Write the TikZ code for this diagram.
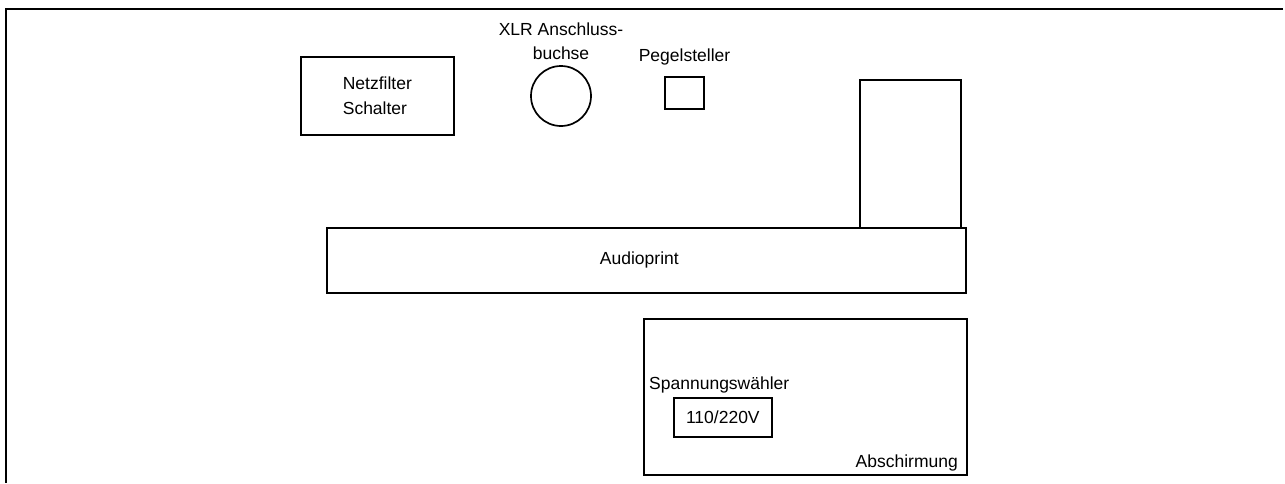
\documentclass[tikz,border=0pt]{standalone}
\usepackage{fontspec}
\setmainfont{Liberation Sans}
\usetikzlibrary{positioning}

\begin{document}
\begin{tikzpicture}[
  x=1pt,y=-1pt,
  every node/.style={font=\fontsize{17.5}{24.5}\selectfont},
  part/.style={draw,line width=1.7pt,inner sep=0pt,anchor=north west},
  lbl/.style={inner sep=0pt,align=center}
]
\useasboundingbox (0,0) rectangle (1285,483);
% Gehaeuse, rechts und unten offen
\coordinate (topR) at (1283,9);
\coordinate (corner) at (6,9);
\coordinate (botL) at (6,483);
\draw[line width=1.7pt] (topR) -- (corner) -- (botL);

\node[part,minimum width=153pt,minimum height=78pt,align=left] (filter) at (300,56) {Netzfilter\\Schalter};
\node[draw,line width=1.7pt,circle,inner sep=0pt,minimum size=60pt] (xlr) at (561,96) {};
\node[lbl,above=5pt of xlr] (xlrlbl) {XLR Anschluss-\\buchse};
\node[draw,line width=1.7pt,minimum width=39pt,minimum height=32pt,inner sep=0pt] (pegel) at (684.5,93) {};
\node[lbl,above=11pt of pegel] (pegellbl) {Pegelsteller};
\node[part,minimum width=101pt,minimum height=148pt] (tall) at (859,79) {};
\node[part,minimum width=639pt,minimum height=65pt] (audio) at (326,227) {Audioprint\hspace*{14pt}};
\node[part,minimum width=323pt,minimum height=156pt] (shield) at (643,318) {};
\node[part,minimum width=98pt,minimum height=39pt] (volt) at (673,397) {110/220V};
\node[inner sep=0pt,anchor=base west] (voltlbl) at (649,389) {Spannungswähler};
\node[inner sep=0pt,anchor=base east] (shieldlbl) at (958,467) {Abschirmung};
\end{tikzpicture}
\end{document}
